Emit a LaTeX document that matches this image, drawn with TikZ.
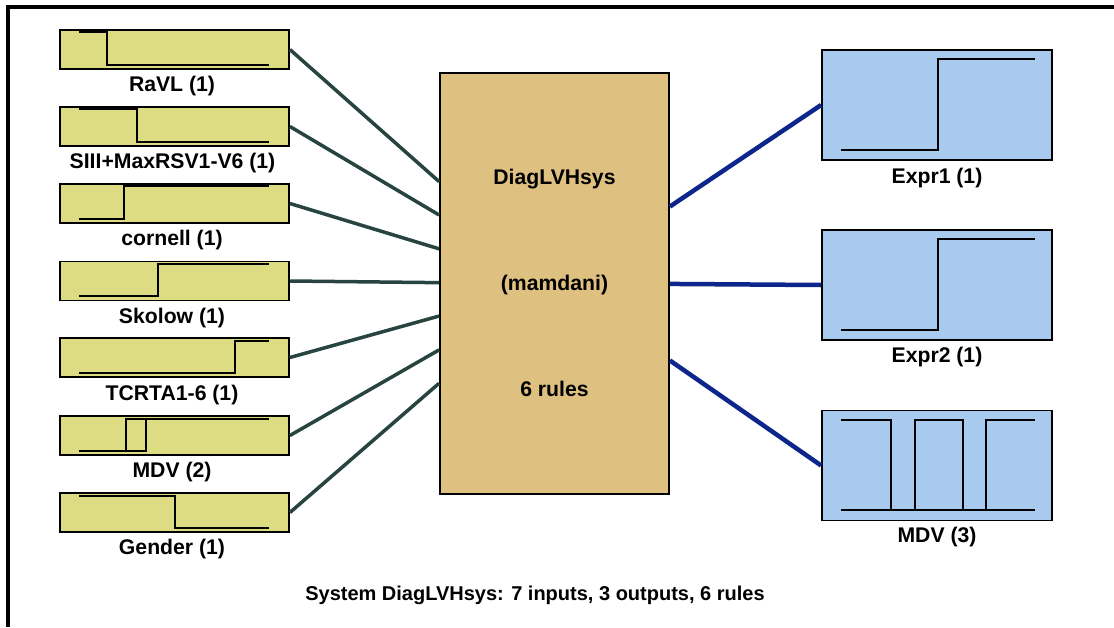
\documentclass[tikz,border=0pt]{standalone}
\usepackage{fontspec}
\setmainfont{Liberation Sans}
\usetikzlibrary{calc}
\definecolor{infill}{RGB}{222,220,130}
\definecolor{corefill}{RGB}{222,192,128}
\definecolor{outfill}{RGB}{168,202,238}
\definecolor{inwire}{RGB}{40,68,64}
\definecolor{outwire}{RGB}{12,38,140}
\tikzset{
  inbox/.style={draw=black,line width=1.8pt,fill=infill,minimum width=229pt,minimum height=39pt,inner sep=0pt},
  outbox/.style={draw=black,line width=1.8pt,fill=outfill,minimum width=230pt,minimum height=110pt,inner sep=0pt},
  corebox/.style={draw=black,line width=1.8pt,fill=corefill,minimum width=229pt,minimum height=421pt,inner sep=0pt},
  lbl/.style={inner sep=0pt,font=\fontsize{21.2}{25}\bfseries\selectfont},
  wave/.style={draw=black,line width=2pt},
  inlink/.style={draw=inwire,line width=3.5pt},
  outlink/.style={draw=outwire,line width=4.5pt},
}
\begin{document}
\begin{tikzpicture}[x=1pt,y=-1pt]
\useasboundingbox (0,0) rectangle (1114,627);
\fill[white] (0,0) rectangle (1114,627);
% frame
\draw[line width=4pt] (8,627) -- (8,7) -- (1114,7);

% central fuzzy system
\node[corebox] (core) at (554.5,283.5) {};
\node[lbl] (cname) at (554.5,179) {DiagLVHsys};
\node[lbl] (ctype) at (554.5,285) {(mamdani)};
\node[lbl] (crules) at (554.5,389) {6 rules};

% input variables
\node[inbox] (i1) at (174.5,49.5) {};
\node[inbox] (i2) at (174.5,126.5) {};
\node[inbox] (i3) at (174.5,203.5) {};
\node[inbox] (i4) at (174.5,281) {};
\node[inbox] (i5) at (174.5,357.5) {};
\node[inbox] (i6) at (174.5,435.5) {};
\node[inbox] (i7) at (174.5,512.5) {};

\node[lbl] (l1) at (172,86) {RaVL (1)};
\node[lbl] (l2) at (172.5,163) {SIII+MaxRSV1-V6 (1)};
\node[lbl] (l3) at (172,240) {cornell (1)};
\node[lbl] (l4) at (172,318) {Skolow (1)};
\node[lbl] (l5) at (172,395) {TCRTA1-6 (1)};
\node[lbl] (l6) at (172,472) {MDV (2)};
\node[lbl] (l7) at (172,549) {Gender (1)};

% membership functions of the inputs
\draw[wave] (79,31.5) -- (107,31.5) -- (107,64.5) -- (269,64.5);
\draw[wave] (79,108.5) -- (137,108.5) -- (137,141.5) -- (269,141.5);
\draw[wave] (79,218.5) -- (124,218.5) -- (124,185.5) -- (269,185.5);
\draw[wave] (79,296) -- (158,296) -- (158,263.5) -- (269,263.5);
\draw[wave] (79,373) -- (235,373) -- (235,340.5) -- (269,340.5);
\draw[wave] (79,451) -- (146,451) -- (146,418.5) -- (126,418.5) -- (126,451);
\draw[wave] (126,418.5) -- (269,418.5);
\draw[wave] (79,495.5) -- (175,495.5) -- (175,527.5) -- (269,527.5);

% output variables
\node[outbox] (o1) at (937,105) {};
\node[outbox] (o2) at (937,285) {};
\node[outbox] (o3) at (937,465.5) {};

\node[lbl] (m1) at (937,178) {Expr1 (1)};
\node[lbl] (m2) at (937,357) {Expr2 (1)};
\node[lbl] (m3) at (937,537) {MDV (3)};

% membership functions of the outputs
\draw[wave] (841,150) -- (938,150) -- (938,59) -- (1035,59);
\draw[wave] (841,330) -- (938,330) -- (938,239) -- (1035,239);
\draw[wave] (841,510) -- (1035,510);
\draw[wave] (841,420) -- (891,420) -- (891,510);
\draw[wave] (915,510) -- (915,420) -- (963,420) -- (963,510);
\draw[wave] (986,510) -- (986,420) -- (1035,420);

% input links
\draw[inlink] (i1.east) -- ($(core.north west)!0.259!(core.south west)$);
\draw[inlink] (i2.east) -- ($(core.north west)!0.338!(core.south west)$);
\draw[inlink] (i3.east) -- ($(core.north west)!0.418!(core.south west)$);
\draw[inlink] (i4.east) -- ($(core.north west)!0.498!(core.south west)$);
\draw[inlink] (i5.east) -- ($(core.north west)!0.577!(core.south west)$);
\draw[inlink] (i6.east) -- ($(core.north west)!0.657!(core.south west)$);
\draw[inlink] (i7.east) -- ($(core.north west)!0.736!(core.south west)$);

% output links
\draw[outlink] ($(core.north east)!0.318!(core.south east)$) -- (o1.west);
\draw[outlink] ($(core.north east)!0.501!(core.south east)$) -- (o2.west);
\draw[outlink] ($(core.north east)!0.682!(core.south east)$) -- (o3.west);

% caption
\node[lbl,font=\fontsize{20}{24}\bfseries\selectfont] (cap) at (535,595) {System DiagLVHsys: 7 inputs, 3 outputs, 6 rules};
\end{tikzpicture}
\end{document}
